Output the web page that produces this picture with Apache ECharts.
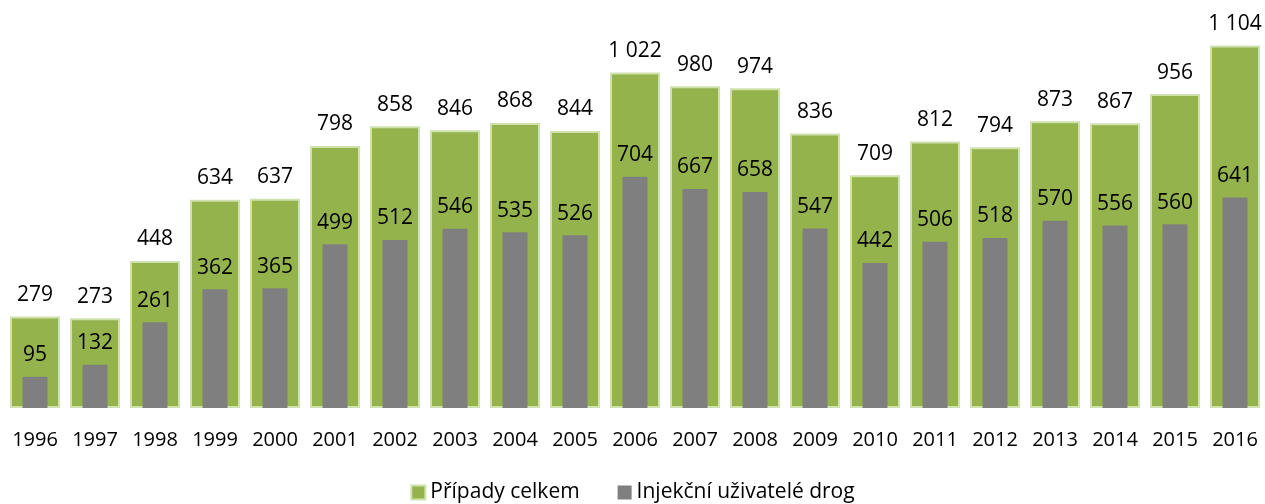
<!DOCTYPE html>
<html>
<head>
<meta charset="utf-8">
<script src="https://cdn.jsdelivr.net/npm/echarts@6/dist/echarts.min.js"></script>
<style>
  html, body { margin: 0; padding: 0; background: #fff; }
  #chart { width: 1265px; height: 504px; }
</style>
</head>
<body>
<div id="chart"></div>
<script>
const years = ['1996', '1997', '1998', '1999', '2000', '2001', '2002', '2003', '2004', '2005', '2006',
  '2007', '2008', '2009', '2010', '2011', '2012', '2013', '2014', '2015', '2016']
const totalCases = [279, 273, 448, 634, 637, 798, 858, 846, 868, 844, 1022,
  980, 974, 836, 709, 812, 794, 873, 867, 956, 1104]
const injectingUsers = [95, 132, 261, 362, 365, 499, 512, 546, 535, 526, 704,
  667, 658, 547, 442, 506, 518, 570, 556, 560, 641]

const fmt = v => String(v).replace(/\B(?=(\d{3})+(?!\d))/g, ' ')
const font = '"Open Sans", "Noto Sans", sans-serif'

const chart = echarts.init(document.getElementById('chart'))
const option = {
  animation: false,
  textStyle: {fontFamily: font},
  grid: {left: 5, right: 0, top: 14, bottom: 96},
  legend: {
    top: 477,
    left: 'center',
    itemWidth: 14,
    itemHeight: 14,
    itemGap: 38,
    icon: 'rect',
    textStyle: {fontSize: 21, color: '#000', fontFamily: font},
    data: ['Případy celkem', 'Injekční uživatelé drog']
  },
  xAxis: [
    {
      type: 'category',
      data: years,
      axisLine: {show: false},
      axisTick: {show: false},
      axisLabel: {color: '#000', fontSize: 20, margin: 22}
    },
    {
      type: 'category',
      data: years,
      show: false
    }
  ],
  yAxis: {
    type: 'value',
    min: 0,
    max: 1200,
    show: false,
    splitLine: {show: false}
  },
  series: [
    {
      name: 'Případy celkem',
      type: 'bar',
      xAxisIndex: 0,
      data: totalCases,
      barWidth: 50,
      itemStyle: {color: '#94b34d', borderColor: '#cfe2ad', borderWidth: 2},
      label: {
        show: true,
        position: 'top',
        distance: 11,
        color: '#000',
        fontSize: 21,
        formatter: p => fmt(p.value)
      }
    },
    {
      name: 'Injekční uživatelé drog',
      type: 'bar',
      xAxisIndex: 1,
      data: injectingUsers,
      barWidth: 25,
      itemStyle: {color: '#7f7f7f'},
      label: {
        show: true,
        position: 'top',
        distance: 11,
        color: '#000',
        fontSize: 21,
        formatter: p => fmt(p.value)
      }
    }
  ]
}
chart.setOption(option, true)
</script>
</body>
</html>
